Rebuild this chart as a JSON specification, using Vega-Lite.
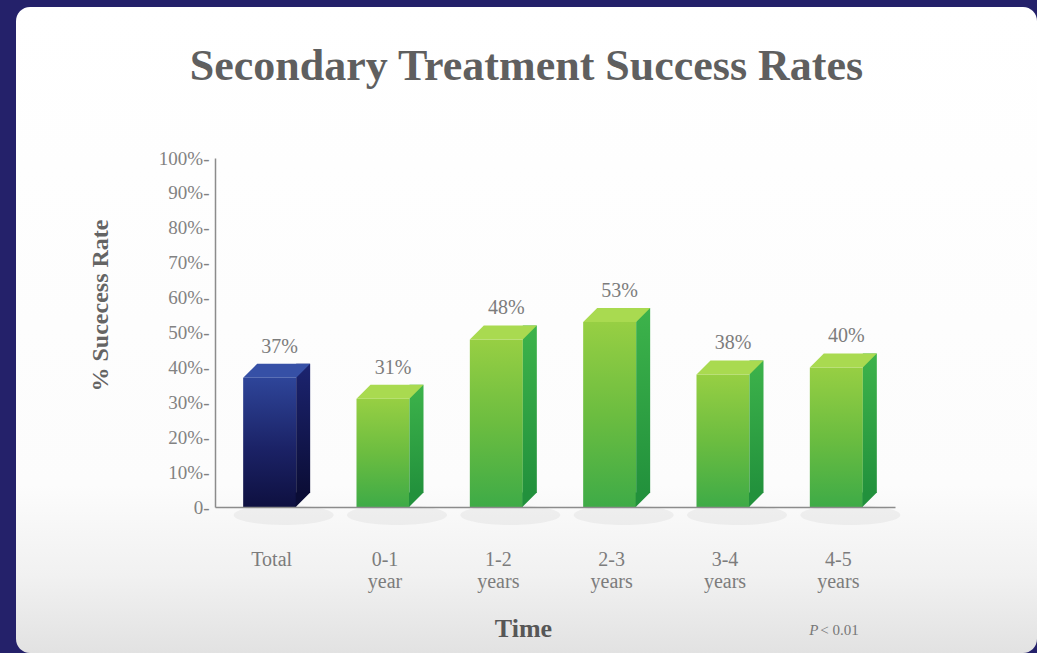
{
  "$schema": "https://vega.github.io/schema/vega-lite/v6.json",
  "width": 1021,
  "height": 646,
  "autosize": {"type": "none"},
  "padding": {"left": 16, "top": 7, "right": 0, "bottom": 0},
  "background": "#24216a",
  "config": {
    "view": {"stroke": null},
    "font": "Liberation Serif"
  },
  "title": {
    "text": "Secondary Treatment Success Rates",
    "font": "Liberation Serif",
    "fontSize": 44,
    "fontWeight": "bold",
    "color": "#5f5f5f",
    "anchor": "middle",
    "frame": "group",
    "orient": "top",
    "baseline": "alphabetic",
    "offset": -117
  },
  "data": {
    "values": [
      {"period": "Total", "group": "Total", "rate": 0.37},
      {"period": "0-1 year", "group": "Interval", "rate": 0.31},
      {"period": "1-2 years", "group": "Interval", "rate": 0.48},
      {"period": "2-3 years", "group": "Interval", "rate": 0.53},
      {"period": "3-4 years", "group": "Interval", "rate": 0.38},
      {"period": "4-5 years", "group": "Interval", "rate": 0.40}
    ]
  },
  "layer": [
    {
      "data": {"values": [{}]},
      "mark": {
        "type": "rect",
        "cornerRadius": 14,
        "fill": {
          "gradient": "linear", "x1": 0, "y1": 0, "x2": 0, "y2": 1,
          "stops": [
            {"offset": 0, "color": "#ffffff"},
            {"offset": 0.74, "color": "#fcfcfc"},
            {"offset": 0.88, "color": "#f1f1f1"},
            {"offset": 1, "color": "#e2e2e2"}
          ]
        }
      },
      "encoding": {}
    },
    {
      "mark": {
        "type": "point",
        "shape": "M -1 0 A 1 0.2 0 1 0 1 0 A 1 0.2 0 1 0 -1 0 Z",
        "filled": true,
        "size": 10000,
        "color": "#6e6e6e",
        "opacity": 0.08,
        "xOffset": 12,
        "yOffset": 8
      },
      "encoding": {
        "x": {"field": "period", "type": "nominal", "sort": null},
        "y": {"datum": 0, "type": "quantitative"}
      }
    },
    {
      "mark": {"type": "bar", "width": 53, "xOffset": -2},
      "encoding": {
        "x": {
          "field": "period", "type": "nominal", "sort": null,
          "scale": {"range": [199, 879], "paddingInner": 0, "paddingOuter": 0},
          "axis": {
            "orient": "bottom",
            "offset": -146,
            "zindex": 1,
            "title": "Time",
            "titleFont": "Liberation Serif",
            "titleFontSize": 26,
            "titleFontWeight": "bold",
            "titleColor": "#575757",
            "titleX": 507,
            "titleY": 121,
            "titleBaseline": "middle",
            "titleAlign": "center",
            "labelAngle": 0,
            "labelAlign": "center",
            "labelOffset": 0,
            "labelExpr": "split(datum.label, ' ')",
            "labelFont": "Liberation Serif",
            "labelFontSize": 20,
            "labelColor": "#7c7c7c",
            "labelBaseline": "top",
            "labelLineHeight": 22,
            "labelPadding": 42,
            "ticks": false,
            "domainColor": "#8c8c8c",
            "domainWidth": 1.5
          }
        },
        "y": {
          "field": "rate", "type": "quantitative",
          "scale": {"domain": [0, 1], "range": [500, 151], "nice": false},
          "axis": {
            "orient": "left",
            "offset": -199,
            "zindex": 1,
            "values": [0, 0.1, 0.2, 0.3, 0.4, 0.5, 0.6, 0.7, 0.8, 0.9, 1],
            "labelExpr": "datum.value == 0 ? '0-' : format(datum.value, '.0%') + '-'",
            "labelFont": "Liberation Serif",
            "labelFontSize": 19,
            "labelColor": "#828282",
            "labelPadding": 6,
            "ticks": false,
            "grid": false,
            "domainColor": "#8c8c8c",
            "domainWidth": 1.5,
            "title": "% Sucecess Rate",
            "titleFont": "Liberation Serif",
            "titleFontSize": 24,
            "titleFontWeight": "bold",
            "titleColor": "#646464",
            "titleAngle": 270,
            "titleX": -115,
            "titleY": 298,
            "titleAlign": "center",
            "titleBaseline": "middle"
          }
        },
        "color": {
          "condition": {
            "test": "datum.group === 'Total'",
            "value": {
              "gradient": "linear", "x1": 0, "y1": 0, "x2": 0, "y2": 1,
              "stops": [
                {"offset": 0, "color": "#2e4599"},
                {"offset": 0.55, "color": "#1b2266"},
                {"offset": 1, "color": "#0e1040"}
              ]
            }
          },
          "value": {
            "gradient": "linear", "x1": 0, "y1": 0, "x2": 0, "y2": 1,
            "stops": [
              {"offset": 0, "color": "#97cf43"},
              {"offset": 0.5, "color": "#6cbd40"},
              {"offset": 1, "color": "#3eab47"}
            ]
          }
        }
      }
    },
    {
      "mark": {"type": "bar", "width": 14, "xOffset": 31.5, "yOffset": -14},
      "encoding": {
        "x": {"field": "period", "type": "nominal", "sort": null},
        "y": {"field": "rate", "type": "quantitative"},
        "color": {
          "condition": {
            "test": "datum.group === 'Total'",
            "value": {
              "gradient": "linear", "x1": 0, "y1": 0, "x2": 0, "y2": 1,
              "stops": [
                {"offset": 0, "color": "#1c2470"},
                {"offset": 1, "color": "#0b0d36"}
              ]
            }
          },
          "value": {
            "gradient": "linear", "x1": 0, "y1": 0, "x2": 0, "y2": 1,
            "stops": [
              {"offset": 0, "color": "#3db34b"},
              {"offset": 1, "color": "#22913c"}
            ]
          }
        }
      }
    },
    {
      "mark": {
        "type": "point",
        "shape": "M 0.6 -0.36 L 0.9625 -0.36 L 0.6 0.0 Z",
        "filled": true,
        "size": 6400,
        "opacity": 1,
        "strokeWidth": 0
      },
      "encoding": {
        "x": {"field": "period", "type": "nominal", "sort": null},
        "y": {"datum": 0, "type": "quantitative"},
        "color": {
          "condition": {"test": "datum.group === 'Total'", "value": "#0b0d36"},
          "value": "#22913c"
        }
      }
    },
    {
      "mark": {
        "type": "point",
        "shape": "M -0.7125 0 L 0.6125 0 L 0.9625 -0.35 L -0.3625 -0.35 Z",
        "filled": true,
        "size": 6400,
        "opacity": 1,
        "strokeWidth": 0
      },
      "encoding": {
        "x": {"field": "period", "type": "nominal", "sort": null},
        "y": {"field": "rate", "type": "quantitative"},
        "color": {
          "condition": {"test": "datum.group === 'Total'", "value": "#3650a6"},
          "value": "#a9da50"
        }
      }
    },
    {
      "mark": {
        "type": "text",
        "font": "Liberation Serif",
        "fontSize": 20,
        "color": "#7c7c7c",
        "baseline": "middle",
        "align": "center",
        "dx": 8,
        "dy": -31
      },
      "encoding": {
        "x": {"field": "period", "type": "nominal", "sort": null},
        "y": {"field": "rate", "type": "quantitative"},
        "text": {"field": "rate", "type": "quantitative", "format": ".0%"}
      }
    },
    {
      "data": {"values": [{"period": "4-5 years", "note": "P"}]},
      "mark": {
        "type": "text",
        "font": "Liberation Serif",
        "fontSize": 15,
        "fontStyle": "italic",
        "color": "#777777",
        "align": "right",
        "baseline": "middle",
        "dx": -20
      },
      "encoding": {
        "x": {"field": "period", "type": "nominal", "sort": null},
        "y": {"datum": -0.352, "type": "quantitative"},
        "text": {"field": "note"}
      }
    },
    {
      "data": {"values": [{"period": "4-5 years", "note": "< 0.01"}]},
      "mark": {
        "type": "text",
        "font": "Liberation Serif",
        "fontSize": 15,
        "color": "#777777",
        "align": "left",
        "baseline": "middle",
        "dx": -18
      },
      "encoding": {
        "x": {"field": "period", "type": "nominal", "sort": null},
        "y": {"datum": -0.352, "type": "quantitative"},
        "text": {"field": "note"}
      }
    }
  ]
}
